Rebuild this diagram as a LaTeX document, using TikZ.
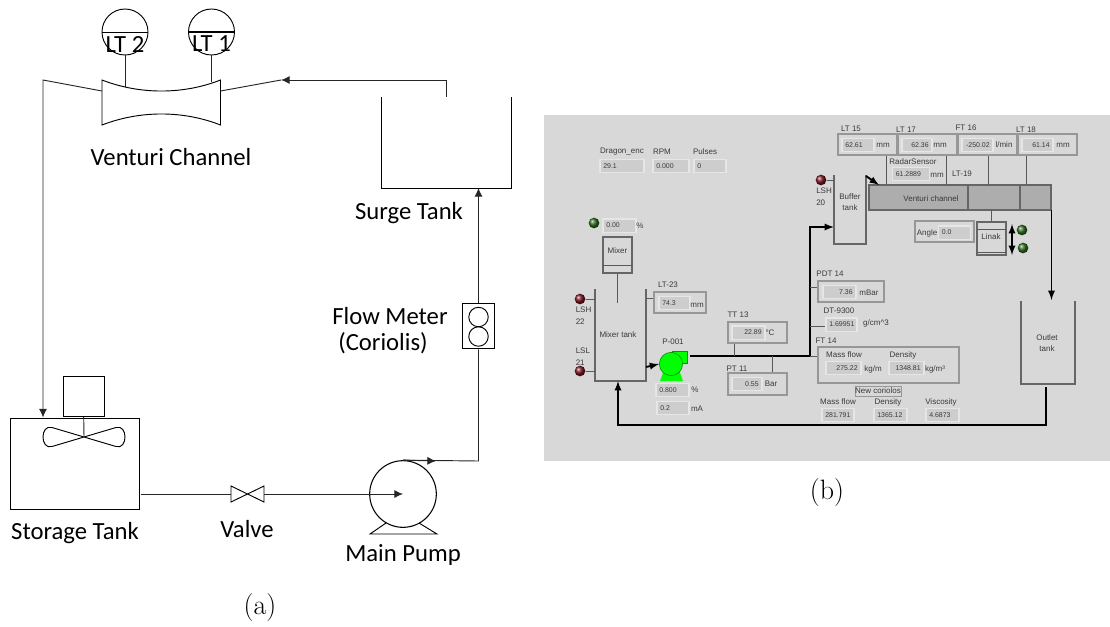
\documentclass[tikz,border=0pt]{standalone}
\usepackage{fontspec}
\newfontfamily\dgf{Carlito}
\newfontfamily\hmi{Liberation Sans}
\usetikzlibrary{arrows,arrows.meta}
\definecolor{pnl}{HTML}{D8D8D8}
\definecolor{fldfill}{HTML}{CDCDCD}
\definecolor{fldedge}{HTML}{E6E6E6}
\definecolor{grpedge}{HTML}{979797}
\definecolor{hmitxt}{HTML}{3A3A3A}
\definecolor{chan}{HTML}{ADADAD}
\definecolor{ledg}{HTML}{2F6B1E}
\definecolor{ledr}{HTML}{7A1420}
\tikzset{
  lbl/.style={font=\dgf\fontsize{18.5}{22}\selectfont,inner sep=0pt},
  capt/.style={font=\fontsize{21}{24}\selectfont,inner sep=0pt},
  pipe/.style={draw=black!85,line width=0.7pt},
  flow/.style={pipe,-{Latex[length=6.5pt,width=6pt]}},
  txt/.style={font=\hmi\fontsize{6}{7}\selectfont,text=hmitxt,inner sep=0pt},
  fld/.style={txt,font=\hmi\fontsize{5.2}{6}\selectfont,draw=fldedge,fill=fldfill,line width=1pt,inner xsep=2.5pt,inner ysep=0pt,minimum height=10pt},
  grp/.style={draw=grpedge,line width=0.9pt,inner sep=0pt},
  tnk/.style={draw=black!60,line width=1.5pt},
  thinl/.style={draw=black!65,line width=0.6pt},
  thk/.style={draw=black,line width=1.4pt},
  led/.style={circle,ball color=#1,minimum size=8pt,inner sep=0pt},
}
\newcommand{\fldl}[5]{\node[fld,align=left,text width=\dimexpr #4pt*3/4-5pt\relax] (#1) at (#2,#3) {\mbox{#5}};}
\newcommand{\fldr}[5]{\node[fld,align=right,text width=\dimexpr #4pt*3/4-5pt\relax] (#1) at (#2,#3) {\mbox{#5}};}
\newcommand{\grpb}[5]{\node[grp,minimum width=\dimexpr #4pt*3/4\relax,minimum height=\dimexpr #5pt*3/4\relax] (#1) at (#2,#3) {};}
\begin{document}
\begin{tikzpicture}[x=0.75pt,y=-0.75pt]
  \useasboundingbox (0,0) rectangle (1110,626);

  \node[circle,draw,line width=0.7pt,minimum size=34.5pt,inner sep=0pt] (gaugeb) at (125,32) {};
  \node[circle,draw,line width=0.7pt,minimum size=34.5pt,inner sep=0pt] (gaugea) at (211.5,32) {};
  \draw[line width=0.7pt] (gaugeb.west) -- (gaugeb.east);
  \draw[line width=1pt] (gaugea.west) -- (gaugea.east);
  \node[lbl] (ltb) at (125,44) {LT 2};
  \node[lbl] (lta) at (211.5,44) {LT 1};
  \coordinate (venb) at (125,87);
  \coordinate (vena) at (211.5,82);
  \draw[pipe] (gaugeb.south) -- (venb);
  \draw[pipe] (gaugea.south) -- (vena);
  \draw[line width=0.7pt] (102,80) .. controls (140,94.7) and (183,94.7) .. (220.5,80) -- (220.5,125)
     .. controls (183,110.3) and (140,110.3) .. (102,125) -- cycle;
  \coordinate (venl) at (102,91);
  \coordinate (venr) at (220.5,91);
  \coordinate (bendl) at (43,80);
  \coordinate (bendr) at (281,80);
  \coordinate (surgein) at (446.5,97);
  \coordinate (surgeup) at (446.5,80);
  \node[lbl] (venlbl) at (171,157) {Venturi Channel};

  \draw[pipe] (venr) -- (bendr);
  \draw[flow] (surgein) -- (surgeup) -- (bendr);
  \draw[line width=0.7pt] (381.7,97) -- (381.7,188) -- (511,188) -- (511,97);
  \node[lbl] (surgelbl) at (409,213) {Surge Tank};

  \node[draw,line width=0.7pt,minimum width=24.3pt,minimum height=34.2pt,inner sep=0pt] (meter) at (478.5,326) {};
  \node[circle,draw,line width=0.7pt,minimum size=14.6pt,inner sep=0pt] (metera) at (478.5,317) {};
  \node[circle,draw,line width=0.7pt,minimum size=14.6pt,inner sep=0pt] (meterb) at (478.5,336.5) {};
  \node[lbl] (meterlbl) at (390,316) {Flow Meter};
  \node[lbl] (corlbl) at (383,343) {(Coriolis)};
  \coordinate (surgeb) at (478.5,188);
  \draw[flow] (meter.north) -- (surgeb);

  \node[draw,line width=0.7pt,minimum width=96.8pt,minimum height=68.2pt,inner sep=0pt] (stor) at (75.3,463.5) {};
  \node[draw,line width=0.7pt,minimum width=30.4pt,minimum height=30.5pt,inner sep=0pt] (motor) at (83.7,396.3) {};
  \coordinate (imp) at (84,437);
  \draw[pipe] (motor.south) -- (imp);
  \draw[line width=0.7pt] (imp) -- (52,427.5) .. controls (40,424) and (40,450) .. (52,446.5) -- (imp)
     -- (116,427.5) .. controls (128,424) and (128,450) .. (116,446.5) -- cycle;
  \coordinate (storin) at (43,417.5);
  \draw[flow] (venl) -- (bendl) -- (storin);
  \node[lbl] (storlbl) at (75,533) {Storage Tank};

  \coordinate (valve) at (247.5,494);
  \draw[line width=0.7pt] (231,486) -- (264,502) -- (264,486) -- (231,502) -- cycle;
  \node[lbl] (valvelbl) at (247,529) {Valve};
  \node[circle,draw,line width=0.8pt,minimum size=50pt,inner sep=0pt] (pump) at (403,494) {};
  \draw[line width=0.7pt] (386,523) -- (370,534) -- (437,534) -- (419,523);
  \node[lbl] (pumplbl) at (403,555) {Main Pump};
  \coordinate (storout) at (140.5,494);
  \draw[pipe] (storout) -- (231,494);
  \draw[flow] (264,494) -- (pump.center);
  \coordinate (elbow) at (478.5,461);
  \draw[pipe] (pump.north) -- (elbow) -- (meter.south);
  \draw[flow] (pump.north) -- (436,461);
  \node[capt] (capa) at (260,608) {(a)};

  \fill[pnl] (544,115) rectangle (1110,461);

  \node[txt] (dragl) at (622,152) {Dragon\_enc};
  \node[txt] (rpml) at (662,152) {RPM};
  \node[txt] (pull) at (705,152) {Pulses};
  \fldl{drag}{622}{166}{44}{29.1}
  \fldl{rpm}{671}{166}{36}{0.000}
  \fldl{pul}{710}{166}{32}{0}

  \node[led=ledg] (mixled) at (594,223) {};
  \fldl{mixp}{619.5}{225.5}{33}{0.00}
  \node[txt] (mixpu) at (640,226) {\%};
  \node[draw=black!60,line width=1.5pt,minimum width=21.7pt,minimum height=27pt,inner sep=0pt] (mixer) at (617.5,255) {};
  \coordinate (mixa) at (603,265);
  \coordinate (mixb) at (632,265);
  \draw[thinl] (mixa) -- (mixb);
  \node[txt] (mixl) at (617.5,251) {Mixer};
  \coordinate (shaft) at (617.5,303);
  \draw[thinl] (mixer.south) -- (shaft);

  \draw[tnk] (595,289) -- (595,381) -- (646,381) -- (646,289);
  \node[txt] (mixtl) at (618,335) {Mixer tank};
  \node[led=ledr] (lshb) at (580,299) {};
  \node[led=ledr] (lslb) at (580,371) {};
  \coordinate (lshbe) at (595,299);
  \coordinate (lslbe) at (595,371);
  \draw[thinl] (lshb) -- (lshbe);
  \draw[thinl] (lslb) -- (lslbe);
  \node[txt,align=left,anchor=north west] (lshbl) at (575.5,307) {LSH\\[1.8pt]22};
  \node[txt,align=left,anchor=north west] (lslbl) at (575.5,348) {LSL\\[1.8pt]21};

  \node[txt] (ltml) at (668,285) {LT-23};
  \grpb{ltm}{680}{302.5}{52}{21}
  \fldl{ltmf}{674.5}{303}{31}{74.3}
  \node[txt] (ltmu) at (697,305) {mm};
  \coordinate (ltme) at (646,298);
  \draw[thinl] (ltme) -- (ltm.west |- ltme);

  \node[txt] (pumpl) at (673,342) {P-001};
  \fill[green,draw=green!60!black,line width=0.3pt] (672,351) rectangle (687,363);
  \fill[green] (664,370) -- (660,381) -- (683,381) -- (679,370) -- cycle;
  \node[circle,fill=green,draw=green!50!black,line width=0.4pt,minimum size=17.5pt,inner sep=0pt] (pumpb) at (671,364) {};
  \coordinate (mixout) at (646,367);
  \draw[thk,-latex] (mixout) -- (pumpb.west);
  \fldl{spd}{672.5}{390}{33}{0.800}
  \node[txt] (spdu) at (695,390) {\%};
  \fldl{cur}{673}{408}{32}{0.2}
  \node[txt] (curu) at (697,409) {mA};

  \coordinate (pumpout) at (690,356);
  \coordinate (risefoot) at (810,356);
  \coordinate (risetop) at (810,227);
  \coordinate (bufin) at (834,227);
  \draw[thk,-latex] (pumpout) -- (risefoot) -- (risetop) -- (bufin);

  \node[txt] (ttl) at (738,315) {TT 13};
  \grpb{tt}{757.5}{332.5}{59}{21}
  \fldr{ttf}{748.5}{332.5}{33}{22.89}
  \node[txt] (ttu) at (770,333) {°C};
  \coordinate (tte) at (734,356);
  \draw[thinl] (tte) -- (tte |- tt.south);
  \node[txt] (ptl) at (737,369) {PT 11};
  \grpb{pt}{757.5}{384}{59}{22}
  \fldr{ptf}{747}{384}{30}{0.55}
  \node[txt] (ptu) at (771,384) {Bar};
  \coordinate (pte) at (772,356);
  \draw[thinl] (pte) -- (pte |- pt.north);

  \node[txt] (pdtl) at (830,274) {PDT 14};
  \grpb{pdt}{851}{291.5}{66}{21}
  \fldr{pdtf}{839.5}{292}{33}{7.36}
  \node[txt] (pdtu) at (869,293) {mBar};
  \coordinate (pdte) at (810,287);
  \draw[thinl] (pdte) -- (pdt.west |- pdte);

  \node[txt] (dtl) at (839,311) {DT-9300};
  \fldl{dtf}{841.5}{324.5}{31}{1.69951}
  \node[txt] (dtu) at (876,323) {g/cm\^{}3};
  \coordinate (dte) at (810,326);
  \draw[thinl] (dte) -- (dtf.west |- dte);

  \node[txt] (ftl) at (826,341) {FT 14};
  \grpb{ft}{888.5}{365}{141}{36}
  \draw[thinl] (risefoot) -- (ft.west |- risefoot);
  \node[txt] (mfl) at (844,355) {Mass flow};
  \fldr{mff}{843.5}{368}{35}{275.22}
  \node[txt] (mfu) at (873,369) {kg/m};
  \node[txt] (dnl) at (903,355) {Density};
  \fldr{dnf}{906.5}{368}{35}{1348.81}
  \node[txt] (dnu) at (935,369) {kg/m³};

  \node[txt,draw=grpedge,line width=0.5pt,minimum width=34.5pt,minimum height=7.5pt] (newc) at (878,391) {New coriolos};
  \node[txt] (mfnl) at (838,402) {Mass flow};
  \fldl{mfn}{838}{415}{32}{281.791}
  \node[txt] (dnnl) at (888,402) {Density};
  \fldl{dnn}{890.5}{415}{33}{1365.12}
  \node[txt] (visl) at (941,402) {Viscosity};
  \fldl{vis}{942.5}{415}{33}{4.6873}

  \draw[tnk] (1021,301) -- (1021,384) -- (1075,384) -- (1075,301);
  \node[txt,align=center] (outl) at (1047,343) {Outlet\\[1.6pt]tank};
  \coordinate (outb) at (1046,387);
  \coordinate (retb) at (1046,425);
  \coordinate (reta) at (618,425);
  \coordinate (mixin) at (618,381);
  \draw[thk,-latex] (outb) -- (retb) -- (reta) -- (mixin);

  \draw[tnk] (834,175) -- (834,244) -- (866,244) -- (866,175);
  \node[txt,align=center] (bufl) at (850,202) {Buffer\\[1.6pt]tank};
  \node[led=ledr] (lsha) at (821,180) {};
  \coordinate (lshae) at (834,180);
  \draw[thinl] (lsha) -- (lshae);
  \node[txt,align=left,anchor=north west] (lshal) at (816,188) {LSH\\[1.8pt]20};

  \node[draw=black!60,fill=chan,line width=0.9pt,minimum width=136.5pt,minimum height=18.7pt,inner sep=0pt] (chanb) at (960,197.5) {};
  \coordinate (diva) at (968,185);
  \coordinate (divb) at (1020,185);
  \draw[draw=black!60,line width=0.9pt] (diva) -- (diva |- chanb.south);
  \draw[draw=black!60,line width=0.9pt] (divb) -- (divb |- chanb.south);
  \node[txt] (chanl) at (931,199) {Venturi channel};
  \coordinate (bufout) at (866,176);
  \coordinate (chanin) at (879,185);
  \draw[thk,-latex] (bufout) -- (chanin);

  \node[txt] (ltal) at (851,129) {LT 15};
  \grpb{lta}{867.5}{144.5}{59}{21}
  \fldl{ltaf}{858}{145}{32}{62.61}
  \node[txt] (ltau) at (883,145) {mm};
  \node[txt] (ltbl) at (906,130) {LT 17};
  \grpb{ltb}{927.5}{144.5}{59}{21}
  \fldr{ltbf}{917}{145}{30}{62.36}
  \node[txt] (ltbu) at (940,145) {mm};
  \node[txt] (ftbl) at (966,128) {FT 16};
  \grpb{ftb}{987.5}{144.5}{59}{21}
  \fldr{ftbf}{977.5}{145}{31}{-250.02}
  \node[txt] (ftbu) at (1004,145) {l/min};
  \node[txt] (ltcl) at (1026,130) {LT 18};
  \grpb{ltc}{1047.5}{144.5}{59}{21}
  \fldr{ltcf}{1037.5}{145}{31}{61.14}
  \node[txt] (ltcu) at (1063,145) {mm};
  \coordinate (tapa) at (886,185);
  \coordinate (tapb) at (946,185);
  \coordinate (tapc) at (988,185);
  \coordinate (tapd) at (1026,185);
  \draw[thinl] (tapa) -- (tapa |- lta.south);
  \draw[thinl] (tapb) -- (tapb |- ltb.south);
  \draw[thinl] (tapc) -- (tapc |- ftb.south);
  \draw[thinl] (tapd) -- (tapd |- ltc.south);
  \node[txt] (radl) at (913,162) {RadarSensor};
  \fldl{radf}{911}{174}{37}{61.2889}
  \node[txt] (radu) at (937,175) {mm};
  \node[txt] (ltdl) at (962,174) {LT-19};

  \grpb{ang}{944.5}{231.5}{59}{21}
  \node[txt] (angl) at (927,233) {Angle};
  \fldl{angf}{954.5}{232.5}{32}{0.0}
  \node[draw=black!60,line width=1.5pt,minimum width=21.7pt,minimum height=24.7pt,inner sep=0pt] (linak) at (991.5,238.5) {};
  \node[txt] (linl) at (991,237) {Linak};
  \coordinate (linup) at (977,229);
  \coordinate (linupr) at (1006,229);
  \coordinate (lindn) at (977,252);
  \coordinate (lindnr) at (1006,252);
  \draw[thinl] (linup) -- (linupr);
  \draw[thinl] (lindn) -- (lindnr);
  \coordinate (chanlin) at (991.5,210);
  \draw[thinl] (chanlin) -- (linak.north);
  \coordinate (arrm) at (1012,239.5);
  \coordinate (arra) at (1012,224);
  \coordinate (arrb) at (1012,255);
  \draw[thk,-latex] (arrm) -- (arra);
  \draw[thk,-latex] (arrm) -- (arrb);
  \node[led=ledg] (leda) at (1022,230) {};
  \node[led=ledg] (ledb) at (1023,248) {};

  \coordinate (drain) at (1051.5,210);
  \coordinate (outin) at (1051.5,300);
  \draw[thk,-latex] (drain) -- (outin);

  \node[capt] (capb) at (827,493) {(b)};
\end{tikzpicture}
\end{document}
